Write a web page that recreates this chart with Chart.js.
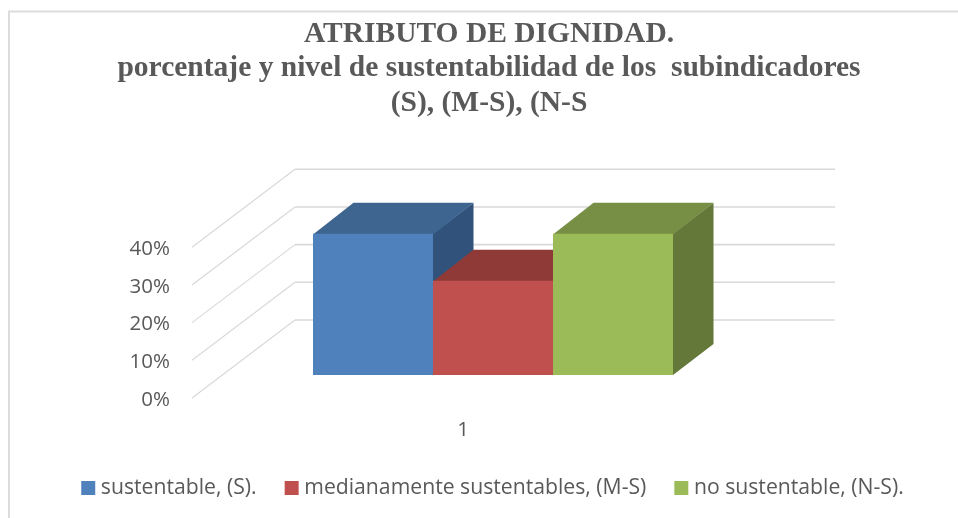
<!DOCTYPE html>
<html>
<head>
<meta charset="utf-8">
<style>html,body{margin:0;padding:0;background:#fff}#w{width:958px;height:518px;position:relative}</style>
<script src="https://cdn.jsdelivr.net/npm/chart.js@4/dist/chart.umd.min.js"></script>
</head>
<body>
<div id="w"><canvas id="c" width="958" height="518"></canvas></div>
<script>
const categories = ['1'];
const seriesNames = ['sustentable, (S).', 'medianamente sustentables, (M-S)', 'no sustentable, (N-S).'];
const sustentable = [37.5];
const medianamente = [25];
const noSustentable = [37.5];
const yTicks = [0, 10, 20, 30, 40];
const titleLines = ['ATRIBUTO DE DIGNIDAD.', 'porcentaje y nivel de sustentabilidad de los  subindicadores', '(S), (M-S), (N-S'];
const frontColors = ['#4f81bd', '#c0504d', '#9bbb59'];
const topColors = ['#3e6490', '#903a38', '#778f45'];
const sideColors = ['#31527a', '#7c3230', '#64783a'];

const TXT = '#595959', GRID = '#d9d9d9';
const DEPTH_X = 40.5, DEPTH_Y = 31;

function poly(ctx, pts, fill) {
  ctx.beginPath();
  pts.forEach((p, i) => i ? ctx.lineTo(p[0], p[1]) : ctx.moveTo(p[0], p[1]));
  ctx.closePath();
  ctx.fillStyle = fill;
  ctx.fill();
}

const frame = {
  id: 'frame',
  beforeDraw(chart) {
    const ctx = chart.ctx;
    ctx.save();
    ctx.strokeStyle = '#dcdcdc';
    ctx.lineWidth = 2;
    ctx.beginPath();
    ctx.moveTo(9, 518); ctx.lineTo(9, 11.5); ctx.lineTo(958, 11.5);
    ctx.stroke();
    ctx.restore();
  }
};

const shiftLegend = {
  id: 'shiftLegend',
  afterLayout(chart) { chart.legend.left += 6; chart.legend.right += 6; chart.legend.top -= 9.5; chart.legend.bottom -= 9.5; }
};

const depth3d = {
  id: 'depth3d',
  beforeDatasetsDraw(chart) {
    const ctx = chart.ctx, y = chart.scales.y;
    ctx.save();
    ctx.strokeStyle = GRID;
    y.ticks.forEach(t => {
      const py = y.getPixelForValue(t.value);
      ctx.lineWidth = 1.2;
      ctx.beginPath();
      ctx.moveTo(192, py + 23); ctx.lineTo(295, py - 55);
      ctx.stroke();
      ctx.lineWidth = 1.6;
      ctx.beginPath();
      ctx.moveTo(295, py - 55); ctx.lineTo(835, py - 55);
      ctx.stroke();
    });
    chart.data.datasets.forEach((ds, i) => {
      const b = chart.getDatasetMeta(i).data[0];
      const l = b.x - b.width / 2, r = b.x + b.width / 2, t = b.y, bot = b.base;
      poly(ctx, [[r, t], [r + DEPTH_X, t - DEPTH_Y], [r + DEPTH_X, bot - DEPTH_Y], [r, bot]], sideColors[i]);
      poly(ctx, [[l, t + 0.8], [l + DEPTH_X, t - DEPTH_Y], [r + DEPTH_X, t - DEPTH_Y], [r, t + 0.8]], topColors[i]);
    });
    ctx.restore();
  }
};

new Chart(document.getElementById('c'), {
  type: 'bar',
  data: {
    labels: categories,
    datasets: [
      { label: seriesNames[0], data: sustentable, backgroundColor: frontColors[0], pointStyle: 'rect' },
      { label: seriesNames[1], data: medianamente, backgroundColor: frontColors[1], pointStyle: 'rect' },
      { label: seriesNames[2], data: noSustentable, backgroundColor: frontColors[2], pointStyle: 'rect' }
    ]
  },
  plugins: [frame, shiftLegend, depth3d],
  options: {
    responsive: false,
    animation: false,
    layout: { padding: { left: 20, right: 0, top: 0, bottom: 0 } },
    datasets: { bar: { categoryPercentage: 2 / 3, barPercentage: 1 } },
    plugins: {
      tooltip: { enabled: false },
      title: {
        display: true,
        text: titleLines,
        color: TXT,
        font: { family: '"Liberation Serif"', size: 29.5, weight: 'bold', lineHeight: 1.17 },
        padding: { top: 17, bottom: 103.7 }
      },
      legend: {
        position: 'bottom',
        labels: {
          usePointStyle: true, boxWidth: 4, boxHeight: 14, padding: 33, color: TXT,
          font: { family: '"Open Sans"', size: 21.2 }
        }
      }
    },
    scales: {
      x: {
        grid: { display: false },
        border: { display: false },
        ticks: { color: TXT, font: { family: '"Open Sans"', size: 20.5 }, padding: 35, labelOffset: -30 },
        afterFit(s) { s.height = 518 - 375 - s.chart.legend.height; }
      },
      y: {
        min: 0, max: 40,
        afterBuildTicks(s) { s.ticks = yTicks.map(v => ({ value: v })); },
        grid: { display: false, drawTicks: false },
        border: { display: false },
        ticks: {
          color: TXT, font: { family: '"Open Sans"', size: 20.5 }, padding: 53, labelOffset: 25,
          callback: v => v + '%'
        },
        afterFit(s) { s.width = 203; }
      },
      yRight: {
        position: 'right',
        grid: { display: false, drawTicks: false },
        border: { display: false },
        ticks: { display: false },
        afterFit(s) { s.width = 195; }
      }
    }
  }
});
</script>
</body>
</html>
